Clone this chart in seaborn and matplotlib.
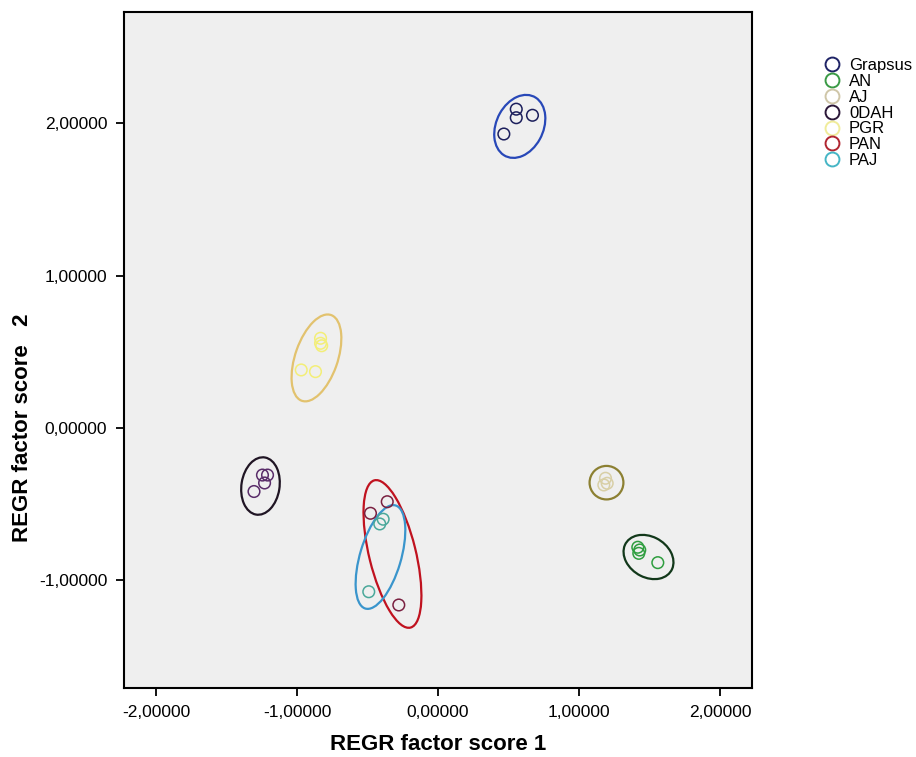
import numpy as np
import pandas as pd
import seaborn as sns
import matplotlib
matplotlib.use("Agg")
import matplotlib.pyplot as plt
from matplotlib.patches import Ellipse
from matplotlib.lines import Line2D

plt.rcParams["font.family"] = ["Liberation Sans", "DejaVu Sans"]

# ---------------- data ----------------
groups = ["Grapsus", "AN", "AJ", "0DAH", "PGR", "PAN", "PAJ"]

grapsus_x = [0.467, 0.555, 0.555, 0.670]
grapsus_y = [1.930, 2.093, 2.037, 2.053]
an_x = [1.417, 1.431, 1.424, 1.559]
an_y = [-0.783, -0.801, -0.823, -0.884]
aj_x = [1.188, 1.200, 1.176]
aj_y = [-0.330, -0.363, -0.374]
odah_x = [-1.245, -1.209, -1.230, -1.305]
odah_y = [-0.309, -0.309, -0.361, -0.417]
pgr_x = [-0.833, -0.833, -0.825, -0.970, -0.869]
pgr_y = [0.589, 0.556, 0.540, 0.381, 0.370]
pan_x = [-0.360, -0.479, -0.278]
pan_y = [-0.484, -0.560, -1.162]
paj_x = [-0.389, -0.413, -0.491]
paj_y = [-0.599, -0.630, -1.075]

# ellipse (center x, center y, major, minor, angle) per group
ell_cx = [0.58, 1.493, 1.195, -1.259, -0.862, -0.323, -0.408]
ell_cy = [1.98, -0.847, -0.359, -0.381, 0.46, -0.827, -0.847]
ell_w = [0.44, 0.37, 0.24, 0.38, 0.60, 1.00, 0.71]
ell_h = [0.33, 0.27, 0.22, 0.27, 0.30, 0.33, 0.29]
ell_angle = [59, -25, 0, 80, 69, 105, 72]

point_colors = ["#1c1f5c", "#2f9e3f", "#d8cfa6", "#5a2d6a", "#f3ee78", "#7a2040", "#4aa89a"]
ellipse_colors = ["#2848b8", "#12381a", "#8c8032", "#201524", "#e2c26e", "#c0121f", "#3a95cc"]
legend_colors = ["#1f2366", "#3a9a45", "#cfc6a8", "#2b1738", "#f0ec9a", "#b02530", "#45b5c5"]

xticks = [-2, -1, 0, 1, 2]
xtick_labels = ["-2,00000", "-1,00000", "0,00000", "1,00000", "2,00000"]
yticks = [-1, 0, 1, 2]
ytick_labels = ["-1,00000", "0,00000", "1,00000", "2,00000"]

xs = [grapsus_x, an_x, aj_x, odah_x, pgr_x, pan_x, paj_x]
ys = [grapsus_y, an_y, aj_y, odah_y, pgr_y, pan_y, paj_y]
df = pd.DataFrame({
    "x": np.concatenate(xs),
    "y": np.concatenate(ys),
    "group": np.concatenate([[g] * len(v) for g, v in zip(groups, xs)]),
})

# ---------------- figure ----------------
W, H = 916, 757
fig = plt.figure(figsize=(W / 100, H / 100), dpi=100)
ax = fig.add_axes([124 / W, 1 - 688 / H, 628 / W, 676 / H])
ax.set_facecolor("#efefef")

for g, pc in zip(groups, point_colors):
    sub = df[df.group == g]
    sns.scatterplot(data=sub, x="x", y="y", ax=ax, s=70, marker="o",
                    facecolors="none", edgecolor=pc, linewidth=1.1,
                    legend=False, zorder=3)

for cx, cy, w, h, a, c in zip(ell_cx, ell_cy, ell_w, ell_h, ell_angle, ellipse_colors):
    ax.add_patch(Ellipse((cx, cy), w, h, angle=a, fill=False, edgecolor=c,
                         linewidth=1.6, zorder=2))

ax.set_xlim(-2.227, 2.227)
ax.set_ylim(-1.707, 2.731)
ax.set_xticks(xticks)
ax.set_xticklabels(xtick_labels, fontsize=12.5)
ax.set_yticks(yticks)
ax.set_yticklabels(ytick_labels, fontsize=12.5)
ax.tick_params(axis="both", direction="out", length=6, width=1.3, color="black",
               pad=6, top=False, right=False)
for sp in ax.spines.values():
    sp.set_linewidth(1.5)
    sp.set_color("black")

ax.set_xlabel("REGR factor score 1", fontsize=16, fontweight="bold", va="center")
ax.xaxis.set_label_coords(0.5, (688 - 744) / 676)
ax.set_ylabel("REGR factor score   2", fontsize=16, fontweight="bold", va="center")
ax.yaxis.set_label_coords((22 - 124) / 628, (688 - 428) / 676)

handles = [Line2D([], [], marker="o", linestyle="", markerfacecolor="none",
                  markeredgecolor=c, markersize=10, markeredgewidth=1.4)
           for c in legend_colors]
fig.legend(handles, groups, loc="upper left", bbox_to_anchor=(824 / W, 1 - 58 / H),
           frameon=False, fontsize=12, handlelength=0.95, handletextpad=0.55,
           labelspacing=0.05, borderpad=0, borderaxespad=0)

fig.savefig("out.png", dpi=100, facecolor="white")
